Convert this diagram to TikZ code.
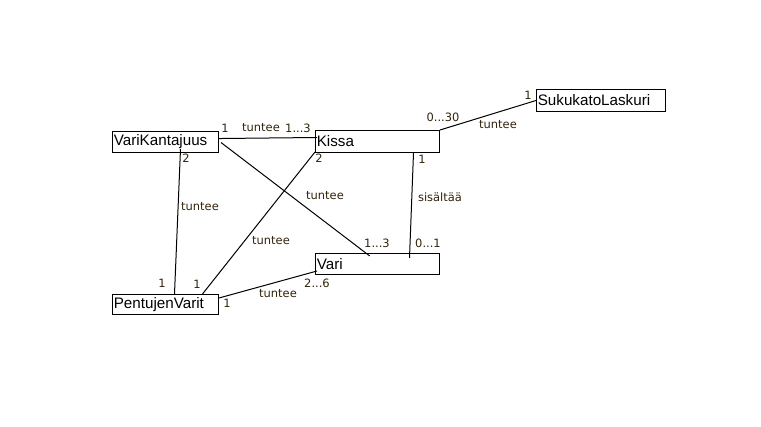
\documentclass[tikz,border=0pt]{standalone}
\usepackage{fontspec}
\setmainfont{Liberation Sans}
\newfontfamily\lblfont{DejaVu Sans}
\definecolor{lblcol}{RGB}{50,35,10}
\begin{document}
\begin{tikzpicture}[x=0.75pt,y=-0.75pt,
  box/.style={draw, line width=0.75pt, anchor=north west, inner xsep=1pt, inner ysep=0pt, align=left,
    font=\fontsize{11.4pt}{13pt}\selectfont},
  lbl/.style={inner sep=0pt, font=\lblfont\fontsize{8.6pt}{10pt}\selectfont, text=lblcol},
  conn/.style={line width=0.75pt}]
\useasboundingbox (0,0) rectangle (761,427);
\fill[white] (0,0) rectangle (761,427);
% boxes
\node[box, text width=77.5pt, minimum height=15.75pt] (vk) at (112,131) {VariKantajuus};
\node[box, text width=91pt, minimum height=16.5pt] (ki) at (315,130) {Kissa};
\node[box, text width=94.75pt, minimum height=16.5pt] (su) at (536,89) {SukukatoLaskuri};
\node[box, text width=91pt, minimum height=15.75pt] (va) at (315,253) {Vari};
\node[box, text width=77.5pt, minimum height=15pt] (pv) at (112,294) {PentujenVarit};
% connectors
\draw[conn] ([yshift=2.6pt]vk.east) -- ([xshift=1.5pt,yshift=3pt]ki.west);
\draw[conn] ([xshift=1.5pt,yshift=-0.4pt]vk.east) -- ([xshift=41pt,yshift=-2.2pt]va.north west);
\draw[conn] ([xshift=11.25pt,yshift=3pt]vk.south) -- ([xshift=6.75pt]pv.north);
\draw[conn] ([yshift=0.75pt]ki.south west) -- ([xshift=27.75pt]pv.north);
\draw[conn] ([xshift=27pt]ki.south) -- ([xshift=24pt,yshift=-3.75pt]va.north);
\draw[conn] (ki.north east) -- (su.west);
\draw[conn] ([yshift=-3pt]pv.north east) -- ([xshift=1.5pt,yshift=3pt]va.south west);
% labels
\node[lbl] (l1) at (225,128) {1};
\node[lbl] (l2) at (261,128) {tuntee};
\node[lbl] (l3) at (298,128) {1...3};
\node[lbl] (l4) at (186,158) {2};
\node[lbl] (l5) at (319,158) {2};
\node[lbl] (l6) at (422,159) {1};
\node[lbl] (l7) at (443,117) {0...30};
\node[lbl] (l8) at (528,95) {1};
\node[lbl] (l9) at (498,125) {tuntee};
\node[lbl] (l10) at (200,207) {tuntee};
\node[lbl] (l11) at (325,196) {tuntee};
\node[lbl] (l12) at (440,197) {sisältää};
\node[lbl] (l13) at (271,241) {tuntee};
\node[lbl] (l14) at (377,243) {1...3};
\node[lbl] (l15) at (428,243) {0...1};
\node[lbl] (l16) at (162,283) {1};
\node[lbl] (l17) at (197,284) {1};
\node[lbl] (l18) at (227,303) {1};
\node[lbl] (l19) at (278,294) {tuntee};
\node[lbl] (l20) at (317,283) {2...6};
\end{tikzpicture}
\end{document}
